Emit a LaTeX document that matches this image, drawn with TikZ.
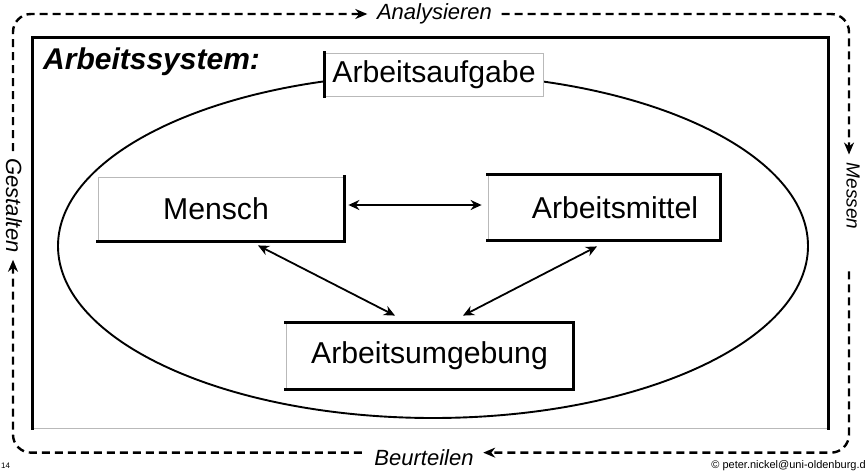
\documentclass[tikz,border=0pt]{standalone}
\usepackage{fontspec}
\setmainfont{Liberation Sans}
\usetikzlibrary{arrows.meta,shapes.geometric}
\begin{document}
\begin{tikzpicture}[x=1pt,y=-1pt,
  loopline/.style={line width=2.4pt,dash pattern=on 8pt off 5pt,rounded corners=18pt},
  looptip/.style={-{Stealth[length=12pt,width=10pt]}},
  lbl/.style={font=\fontsize{22}{25}\selectfont\itshape,inner ysep=0pt,inner xsep=8.5pt},
  box/.style={draw=gray!55,line width=0.8pt,fill=white,font=\fontsize{30.2}{35}\selectfont,inner sep=0pt},
  thickedge/.style={line width=3pt,line cap=rect},
  link/.style={line width=1.8pt,{Stealth[length=11pt,width=10pt]}-{Stealth[length=11pt,width=10pt]}},
]
\useasboundingbox (0,0) rectangle (865,471);
% system frame
\node[draw=gray!55,line width=0.8pt,minimum width=795pt,minimum height=390pt,inner sep=0pt] (sys) at (430.5,233) {};
\draw[thickedge] (sys.south west) -- (sys.north west) -- (sys.north east) -- (sys.south east);
\node[font=\fontsize{30}{34}\selectfont\bfseries\itshape,anchor=base west,inner sep=0pt] (title) at (43,69) {Arbeitssystem:};
% ellipse
\node[ellipse,draw,line width=1.9pt,minimum width=750pt,minimum height=344pt,inner sep=0pt] (ell) at (433,246) {};
% boxes
\node[box,minimum width=218pt,minimum height=43pt] (auf) at (434,74.5) {Arbeitsaufgabe};
\node[box,minimum width=246pt,minimum height=64pt] (mensch) at (221,209) {Mensch\hspace*{10pt}};
\node[box,minimum width=232pt,minimum height=65pt] (mittel) at (604,207.5) {\hspace*{22pt}Arbeitsmittel};
\node[box,minimum width=287pt,minimum height=66pt] (umg) at (429.5,356) {Arbeitsumgebung};
\draw[thickedge] (auf.north west) -- (auf.south west);
\draw[thickedge] (mensch.north east) -- (mensch.south east) -- (mensch.south west);
\draw[thickedge] (mittel.north west) -- (mittel.north east) -- (mittel.south east) -- (mittel.south west);
\draw[thickedge] (umg.north west) -- (umg.north east) -- (umg.south east) -- (umg.south west);
% links
\draw[link] ([xshift=4pt,yshift=4pt]mensch.east) -- ([xshift=-6pt,yshift=2.5pt]mittel.west);
\draw[link] ([xshift=37pt,yshift=-4pt]mensch.south) -- ([xshift=-34.5pt,yshift=7pt]umg.north);
\draw[link] ([xshift=-7pt,yshift=-6pt]mittel.south) -- ([xshift=33.5pt,yshift=7pt]umg.north);
% cycle labels
\node[lbl,inner xsep=9.5pt] (ana) at (434.5,14) {Analysieren};
\node[lbl,anchor=base,inner xsep=9.5pt] (beur) at (424,465) {Beurteilen};
\node[lbl,rotate=-90,font=\fontsize{19}{22}\selectfont\itshape,inner xsep=8pt] (mess) at (853,196) {Messen};
\node[lbl,rotate=-90,inner xsep=7pt] (gest) at (14,205.5) {Gestalten};
% cycle
\draw[loopline,looptip] ([xshift=-3pt,yshift=4.5pt]beur.west) -| ([xshift=-1pt]gest.east);
\draw[loopline,looptip] ([xshift=-1pt]gest.west) |- (ana.west);
\draw[loopline,looptip] (ana.east) -| ([xshift=-4pt]mess.west);
\draw[loopline,looptip] ([xshift=-4pt,yshift=-34pt]mess.east) |- ([yshift=4.5pt]beur.east);
% footer
\node[font=\fontsize{8}{9}\selectfont,anchor=west,inner sep=0pt] (num) at (1,466) {14};
\node[font=\fontsize{11}{12}\selectfont,anchor=east,inner sep=0pt] (copy) at (866,466) {© peter.nickel@uni-oldenburg.d};
\end{tikzpicture}
\end{document}
